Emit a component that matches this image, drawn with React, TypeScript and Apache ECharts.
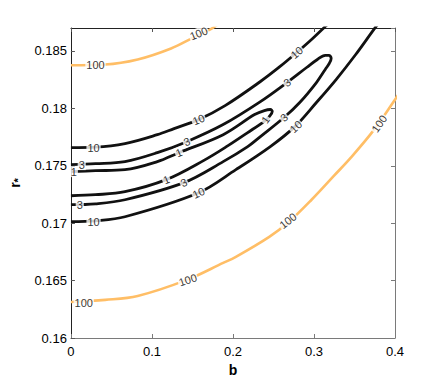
import React, { useEffect, useRef } from "react";
import * as echarts from "echarts";

// Axis ticks
const xTicks = [0, 0.1, 0.2, 0.3, 0.4];
const xTickLabels = ["0", "0.1", "0.2", "0.3", "0.4"];
const yTicks = [0.16, 0.165, 0.17, 0.175, 0.18, 0.185];
const yTickLabels = ["0.16", "0.165", "0.17", "0.175", "0.18", "0.185"];

// Contour level 100 (orange)
const c100Top: number[][] = [
  [0, 0.18376], [0.0424, 0.18382], [0.0824, 0.18426], [0.1236, 0.18522],
  [0.1515, 0.18618], [0.1721, 0.18688], [0.185, 0.1875],
];
const c100Bottom: number[][] = [
  [0, 0.16314], [0.0424, 0.16332], [0.0824, 0.16366], [0.143, 0.16506],
  [0.1879, 0.16654], [0.2036, 0.16707], [0.2448, 0.16881], [0.2691, 0.17012],
  [0.297, 0.17204], [0.3248, 0.17414], [0.3455, 0.17571], [0.3733, 0.17806],
  [0.3976, 0.18051], [0.405, 0.1813],
];

// Contour level 10 (two open branches)
const c10Upper: number[][] = [
  [0, 0.17658], [0.0303, 0.17662], [0.0667, 0.17693], [0.1067, 0.17771],
  [0.1273, 0.17824], [0.1576, 0.17902], [0.1903, 0.18024], [0.2339, 0.18234],
  [0.2582, 0.18365], [0.2788, 0.18487], [0.297, 0.186], [0.3127, 0.18705],
  [0.3212, 0.18757],
];
const c10Lower: number[][] = [
  [0, 0.17013], [0.0303, 0.17021], [0.0667, 0.17056], [0.1576, 0.17265],
  [0.2036, 0.17466], [0.2461, 0.17667], [0.2764, 0.17841], [0.303, 0.18051],
  [0.3273, 0.18251], [0.3515, 0.18469], [0.3758, 0.18705], [0.3818, 0.18757],
];

// Contour level 3 (tongue)
const c3: number[][] = [
  [0, 0.1751], [0.0303, 0.17518], [0.0667, 0.17536], [0.1067, 0.17614],
  [0.143, 0.1771], [0.1879, 0.17859], [0.2339, 0.18059], [0.2667, 0.18225],
  [0.2909, 0.18356], [0.3042, 0.18426], [0.3139, 0.18461], [0.3188, 0.18461],
  [0.3212, 0.18435], [0.3188, 0.18391], [0.3139, 0.18339], [0.303, 0.18225],
  [0.2824, 0.18051], [0.263, 0.1792], [0.2339, 0.17754], [0.2182, 0.17667],
  [0.1879, 0.17536], [0.1394, 0.17353], [0.0667, 0.17204], [0.0303, 0.17169],
  [0, 0.17161],
];

// Contour level 1 (tongue)
const c1: number[][] = [
  [0, 0.17449], [0.0303, 0.17457], [0.0667, 0.17466], [0.1067, 0.17536],
  [0.1333, 0.17614], [0.1879, 0.17771], [0.2267, 0.17946], [0.2388, 0.17981],
  [0.2461, 0.1799], [0.2485, 0.17972], [0.2448, 0.17928], [0.24, 0.17894],
  [0.2182, 0.17789], [0.1939, 0.17675], [0.1636, 0.17545], [0.1176, 0.17379],
  [0.0667, 0.17274], [0.0303, 0.17248], [0, 0.17239],
];

// Inline contour labels: [b, r, text]
const contourLabels: [number, number, string][] = [
  [0.0303, 0.18382, "100"], [0.1576, 0.18653, "100"],
  [0.0158, 0.16305, "100"], [0.1442, 0.16506, "100"],
  [0.2679, 0.17021, "100"], [0.3806, 0.17867, "100"],
  [0.0279, 0.17658, "10"], [0.1576, 0.17902, "10"], [0.2788, 0.18487, "10"],
  [0.0133, 0.1751, "3"], [0.143, 0.1771, "3"], [0.2667, 0.18225, "3"],
  [0.0036, 0.17449, "1"], [0.1333, 0.17614, "1"],
  [0.1176, 0.17379, "1"], [0.24, 0.17902, "1"],
  [0.0109, 0.17161, "3"], [0.1394, 0.17353, "3"], [0.263, 0.1792, "3"],
  [0.0279, 0.17013, "10"], [0.1576, 0.17265, "10"], [0.2776, 0.17841, "10"],
];
const labelAngles = [
  0, 22, 0, 18, 38, 55,
  0, 22, 40,
  0, 22, 36,
  0, 22,
  22, 55,
  0, 25, 40,
  0, 25, 42,
];

const FONT = "Liberation Sans, Arial, Helvetica, sans-serif";
const ORANGE = "#FFBE66";
const BLACK = "#111111";

function fmtTick(v: number, ticks: number[], labels: string[]) {
  const i = ticks.findIndex((t) => Math.abs(t - v) < 1e-7);
  return i >= 0 ? labels[i] : "";
}

export default function App() {
  const ref = useRef<HTMLDivElement>(null);
  useEffect(() => {
    if (!ref.current) return;
    const chart = echarts.init(ref.current, undefined, { renderer: "svg" });
    const lineSeries = (data: number[][], color: string, width: number) => ({
      type: "line",
      data,
      showSymbol: false,
      symbol: "none",
      smooth: 0.35,
      clip: true,
      xAxisIndex: 0,
      yAxisIndex: 0,
      lineStyle: { color, width },
      z: 2,
    });
    const labelStyle = {
      show: true,
      position: "inside",
      color: "#000000",
      fontSize: 11,
      fontFamily: FONT,
      backgroundColor: "#ffffff",
      padding: [0, 1],
      lineHeight: 11,
      textBorderWidth: 0,
      textBorderColor: "transparent",
    };
    chart.setOption({
      animation: false,
      backgroundColor: "#ffffff",
      grid: { left: 65, right: 41, top: 28, bottom: 44, containLabel: false },
      xAxis: [
        {
          type: "value",
          position: "bottom",
          min: 0,
          max: 0.4,
          interval: 0.1,
          splitLine: { show: false },
          axisLine: { show: true, onZero: false, lineStyle: { color: "#7a7a7a", width: 1 } },
          axisTick: { show: true, inside: true, length: 4, lineStyle: { color: "#7a7a7a" } },
          axisLabel: {
            color: "#000",
            fontSize: 13,
            fontFamily: FONT,
            margin: 7,
            formatter: (v: number) => fmtTick(v, xTicks, xTickLabels),
          },
          name: "b",
          nameLocation: "middle",
          nameGap: 22,
          nameTextStyle: { color: "#000", fontSize: 14, fontWeight: "bold", fontFamily: FONT },
        },
        {
          type: "value",
          position: "top",
          min: 0,
          max: 0.4,
          interval: 0.1,
          splitLine: { show: false },
          axisLine: { show: true, onZero: false, lineStyle: { color: "#222", width: 1 } },
          axisTick: { show: true, inside: true, length: 4, lineStyle: { color: "#555" } },
          axisLabel: { show: false },
        },
      ],
      yAxis: [
        {
          type: "value",
          position: "left",
          min: 0.16,
          max: 0.187,
          interval: 0.005,
          splitLine: { show: false },
          axisLine: { show: true, onZero: false, lineStyle: { color: "#222", width: 1 } },
          axisTick: { show: true, inside: true, length: 4, lineStyle: { color: "#555" } },
          axisLabel: {
            color: "#000",
            fontSize: 13,
            fontFamily: FONT,
            margin: 4,
            showMaxLabel: false,
            formatter: (v: number) => fmtTick(v, yTicks, yTickLabels),
          },
          name: "{r|r}{s|*}",
          nameLocation: "middle",
          nameGap: 44,
          nameRotate: 90,
          nameTextStyle: {
            color: "#000",
            fontFamily: FONT,
            rich: {
              r: { fontSize: 14, fontWeight: "bold", fontFamily: FONT, color: "#000" },
              s: { fontSize: 11, fontWeight: "bold", fontFamily: FONT, color: "#000", padding: [6, 0, 0, 0] },
            },
          },
        },
        {
          type: "value",
          position: "right",
          min: 0.16,
          max: 0.187,
          interval: 0.005,
          splitLine: { show: false },
          axisLine: { show: true, onZero: false, lineStyle: { color: "#7a7a7a", width: 1 } },
          axisTick: { show: true, inside: true, length: 4, lineStyle: { color: "#7a7a7a" } },
          axisLabel: { show: false },
        },
      ],
      series: [
        lineSeries(c100Top, ORANGE, 2.6),
        lineSeries(c100Bottom, ORANGE, 2.6),
        lineSeries(c10Upper, BLACK, 2.8),
        lineSeries(c10Lower, BLACK, 2.8),
        lineSeries(c3, BLACK, 2.8),
        lineSeries(c1, BLACK, 2.8),
        {
          type: "scatter",
          xAxisIndex: 0,
          yAxisIndex: 0,
          symbolSize: 1,
          itemStyle: { color: "rgba(0,0,0,0)" },
          z: 5,
          data: contourLabels.map((d, i) => ({
            value: [d[0], d[1]],
            label: {
              ...labelStyle,
              formatter: d[2],
              rotate: labelAngles[i],
            },
          })),
          label: labelStyle,
          emphasis: { disabled: true },
        },
      ],
    });
    return () => chart.dispose();
  }, []);
  return (
    <div
      ref={ref}
      style={{ position: "absolute", left: 0, top: 0, width: 436, height: 382, background: "#fff" }}
    />
  );
}
